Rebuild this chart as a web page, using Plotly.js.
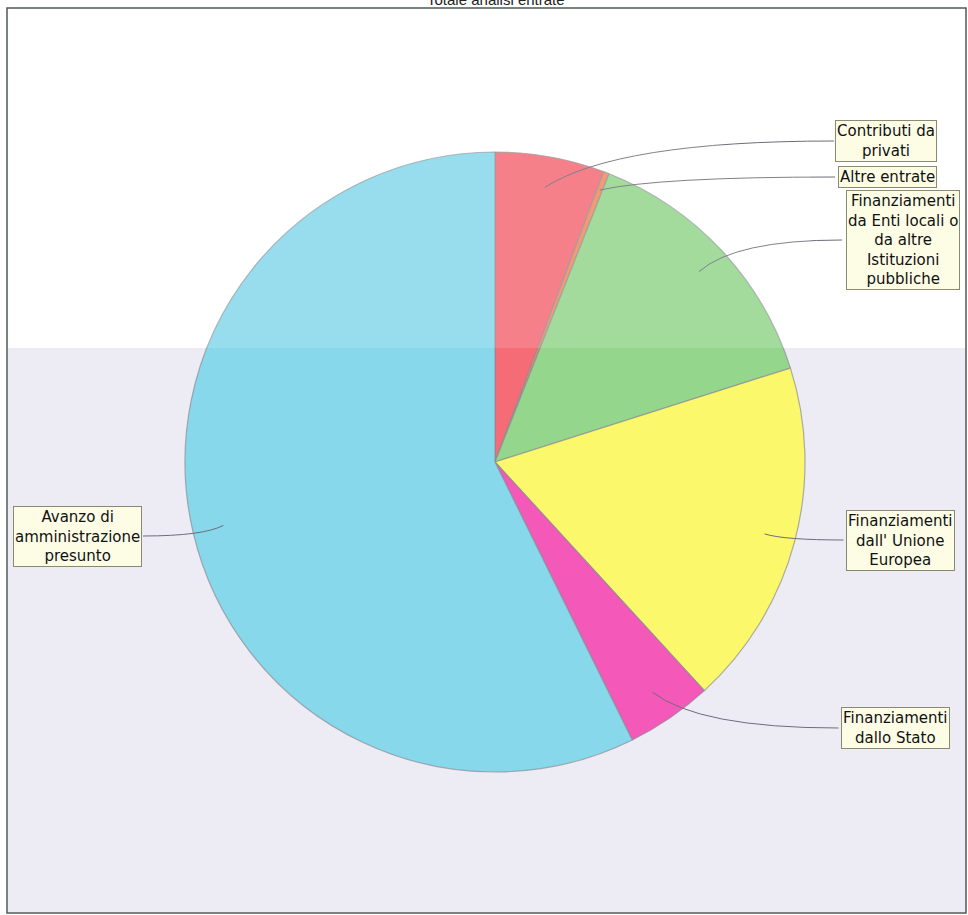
<!DOCTYPE html>
<html>
<head>
<meta charset="utf-8">
<script src="https://cdn.plot.ly/plotly-3.0.1.min.js"></script>
<style>html,body{margin:0;padding:0;background:#fff;}#chart{width:968px;height:915px;}</style>
</head>
<body>
<div id="chart"></div>
<script>
// ---- data (percentages) ----
const categories = [
  "Contributi da privati",
  "Altre entrate",
  "Finanziamenti da Enti locali o da altre Istituzioni pubbliche",
  "Finanziamenti dall' Unione Europea",
  "Finanziamenti dallo Stato",
  "Avanzo di amministrazione presunto"
];
const labelTexts = [
  "Contributi da<br>privati",
  "Altre entrate",
  "Finanziamenti<br>da Enti locali o<br>da altre<br>Istituzioni<br>pubbliche",
  "Finanziamenti<br>dall' Unione<br>Europea",
  "Finanziamenti<br>dallo Stato",
  "Avanzo di<br>amministrazione<br>presunto"
];
const values = [5.7, 0.3, 14.1, 18.1, 4.5, 57.3];
const colors = ["#f56c76", "#f08a5a", "#93d68c", "#fbf86c", "#f458b8", "#86d8ea"];
const chartTitle = "Totale analisi entrate";

// ---- layout geometry (pixels) ----
const W = 968, H = 915;
const cx = 495, cy = 462, R = 310;
// label box centres (px), side and approximate box width
const boxPos = [
  {x: 886, y: 141, side: "r", w: 104},
  {x: 887, y: 177, side: "r", w: 104},
  {x: 903, y: 240, side: "r", w: 122},
  {x: 900, y: 540, side: "r", w: 113},
  {x: 895, y: 728, side: "r", w: 113},
  {x: 77,  y: 536, side: "l", w: 132}
];

const px = x => x / W;
const py = y => 1 - y / H;
const FONT = "DejaVu Sans, Liberation Sans, Arial, sans-serif";

const total = values.reduce((a, b) => a + b, 0);
let cum = 0;
const shapes = [];
const annotations = [];

// lavender background of the lower part of the page
shapes.push({type: "rect", xref: "paper", yref: "paper", layer: "below",
  x0: px(8), x1: px(966), y0: py(912), y1: py(348), fillcolor: "#edecf5", line: {width: 0}});

values.forEach((v, i) => {
  const mid = (cum + v / 2) / total * 2 * Math.PI;
  cum += v;
  const rr = (i === 1) ? 0.94 * R : 0.9 * R;
  const ax = cx + rr * Math.sin(mid);
  const ay = cy - rr * Math.cos(mid);
  const b = boxPos[i];
  const ex = b.side === "r" ? b.x - b.w / 2 : b.x + b.w / 2;
  const ey = b.y;
  const qx = ax + (ex - ax) * 0.25;
  const qy = ey;
  shapes.push({
    type: "path", xref: "paper", yref: "paper", layer: "above",
    path: `M ${px(ax)} ${py(ay)} Q ${px(qx)} ${py(qy)} ${px(ex)} ${py(ey)}`,
    line: {color: "#6d6d7a", width: 1}
  });
  annotations.push({
    xref: "paper", yref: "paper", x: px(b.x), y: py(b.y),
    xanchor: "center", yanchor: "middle", showarrow: false,
    text: labelTexts[i], align: "center",
    font: {family: FONT, size: 15, color: "#111"},
    bgcolor: "#fdfde6", bordercolor: "#8a8a70", borderwidth: 1, borderpad: 1
  });
});

// pale band over the upper part (scan look)
shapes.push({type: "rect", xref: "paper", yref: "paper", layer: "above",
  x0: px(180), x1: px(810), y0: py(348), y1: py(145), fillcolor: "rgba(255,255,255,0.14)", line: {width: 0}});

// outer frame
shapes.push({type: "rect", xref: "paper", yref: "paper", layer: "above",
  x0: px(7), x1: px(966), y0: py(913), y1: py(8), fillcolor: "rgba(0,0,0,0)", line: {color: "#4d5a55", width: 1.5}});

annotations.push({
  xref: "paper", yref: "paper", x: px(496), y: py(-1), xanchor: "center", yanchor: "middle",
  showarrow: false, text: chartTitle,
  font: {family: "Liberation Sans, Arial, sans-serif", size: 15, color: "#222"}
});

const trace = {
  type: "pie",
  labels: categories,
  values: values,
  sort: false,
  direction: "clockwise",
  rotation: 0,
  textinfo: "none",
  hoverinfo: "label+percent",
  marker: {colors: colors, line: {color: "rgba(140,140,150,0.7)", width: 1.2}},
  domain: {x: [px(cx - R), px(cx + R)], y: [py(cy + R), py(cy - R)]},
  showlegend: false
};

const layout = {
  width: W, height: H,
  margin: {l: 0, r: 0, t: 0, b: 0},
  paper_bgcolor: "#ffffff",
  plot_bgcolor: "#ffffff",
  showlegend: false,
  shapes: shapes,
  annotations: annotations
};

Plotly.newPlot("chart", [trace], layout, {displayModeBar: false, staticPlot: true});
</script>
</body>
</html>
